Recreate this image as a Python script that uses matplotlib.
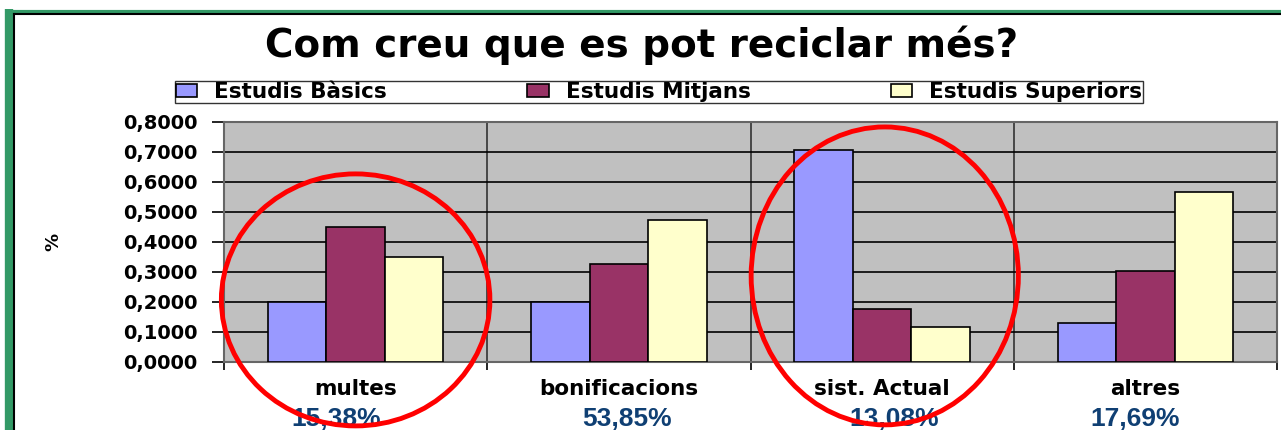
import matplotlib.pyplot as plt
import numpy as np
from matplotlib.patches import Ellipse
from matplotlib.lines import Line2D

plt.rcParams['font.family'] = ['DejaVu Sans']

# Data
categories = ['multes', 'bonificacions', 'sist. Actual', 'altres']
shares = ['15,38%', '53,85%', '13,08%', '17,69%']
series = ['Estudis Bàsics', 'Estudis Mitjans', 'Estudis Superiors']
basics = [0.200, 0.200, 0.707, 0.130]
mitjans = [0.450, 0.327, 0.177, 0.303]
superiors = [0.350, 0.473, 0.117, 0.567]
colors = ['#9999FF', '#993366', '#FFFFCC']
yticks = [0.0, 0.1, 0.2, 0.3, 0.4, 0.5, 0.6, 0.7, 0.8]

# the share labels were hand-placed text boxes, slightly off-centre
share_shift = [-0.073, 0.03, 0.044, -0.04]

W, H = 1281, 430
fig = plt.figure(figsize=(W / 100, H / 100), dpi=100)

# slide frame: green border on top and left + thin black inner line
fig.add_artist(Line2D([9 / W, 9 / W], [0, 1 - 9 / H], transform=fig.transFigure,
                      color='#339966', lw=6, solid_capstyle='butt'))
fig.add_artist(Line2D([6 / W, 1], [1 - 11.5 / H, 1 - 11.5 / H], transform=fig.transFigure,
                      color='#339966', lw=3, solid_capstyle='butt'))
fig.add_artist(Line2D([14 / W, 14 / W], [0, 1 - 14 / H], transform=fig.transFigure,
                      color='black', lw=1.5))
fig.add_artist(Line2D([14 / W, 1], [1 - 14 / H, 1 - 14 / H], transform=fig.transFigure,
                      color='black', lw=1.5))

ax = fig.add_axes([224 / W, 68 / H, 1053 / W, 240 / H])
ax.set_facecolor('#C0C0C0')

x = np.arange(len(categories))
w = 0.222
for i, (vals, c) in enumerate(zip([basics, mitjans, superiors], colors)):
    ax.bar(x + (i - 1) * w, vals, w, color=c, edgecolor='black', lw=1.2,
           label=series[i], zorder=3)

ax.set_xlim(-0.5, 3.5)
ax.set_ylim(0, 0.8)
ax.set_yticks(yticks)
ax.set_yticklabels([f'{v:.4f}'.replace('.', ',') for v in yticks],
                   fontsize=14, fontweight='bold')
ax.yaxis.grid(True, color='black', lw=1.2, zorder=1)
ax.set_xticks([-0.5, 0.5, 1.5, 2.5, 3.5])
ax.set_xticklabels([])
ax.xaxis.grid(True, color='#333333', lw=1.2, zorder=1)
ax.tick_params(axis='y', length=9, width=1.2, pad=10)
ax.tick_params(axis='x', length=6, width=1.2)
for s in ax.spines.values():
    s.set_color('#666666')
    s.set_linewidth(1.5)

for i, (cat, sh) in enumerate(zip(categories, shares)):
    ax.text(i, -0.09, cat, ha='center', va='center', fontsize=15.5,
            fontweight='bold', clip_on=False)
    ax.text(i + share_shift[i], -0.19, sh, ha='center', va='center', fontsize=19,
            fontweight='bold', color='#0F3F73', clip_on=False,
            family='Liberation Sans')

ax.set_ylabel('%', fontsize=13, fontweight='bold', labelpad=44)

fig.text(0.5005, 1 - 45 / H, 'Com creu que es pot reciclar més?', ha='center', va='center',
         fontsize=28, fontweight='bold')
leg = fig.legend(loc='center', bbox_to_anchor=(659 / W, 1 - 92 / H), ncol=3,
                 frameon=True, fancybox=False, edgecolor='black',
                 prop={'size': 15.5, 'weight': 'bold'},
                 handlelength=1.0, handleheight=0.6, columnspacing=6.5, handletextpad=0.8,
                 borderpad=0.05, borderaxespad=0)
leg.get_frame().set_linewidth(1.0)

# red annotation ellipses
ax.add_patch(Ellipse((0.0, 0.207), 1.02, 0.84, facecolor='none', edgecolor='red',
                     lw=3.5, clip_on=False, zorder=5))
ax.add_patch(Ellipse((2.01, 0.287), 1.015, 0.993, facecolor='none', edgecolor='red',
                     lw=3.5, clip_on=False, zorder=5))

fig.savefig('out.png', dpi=100)
